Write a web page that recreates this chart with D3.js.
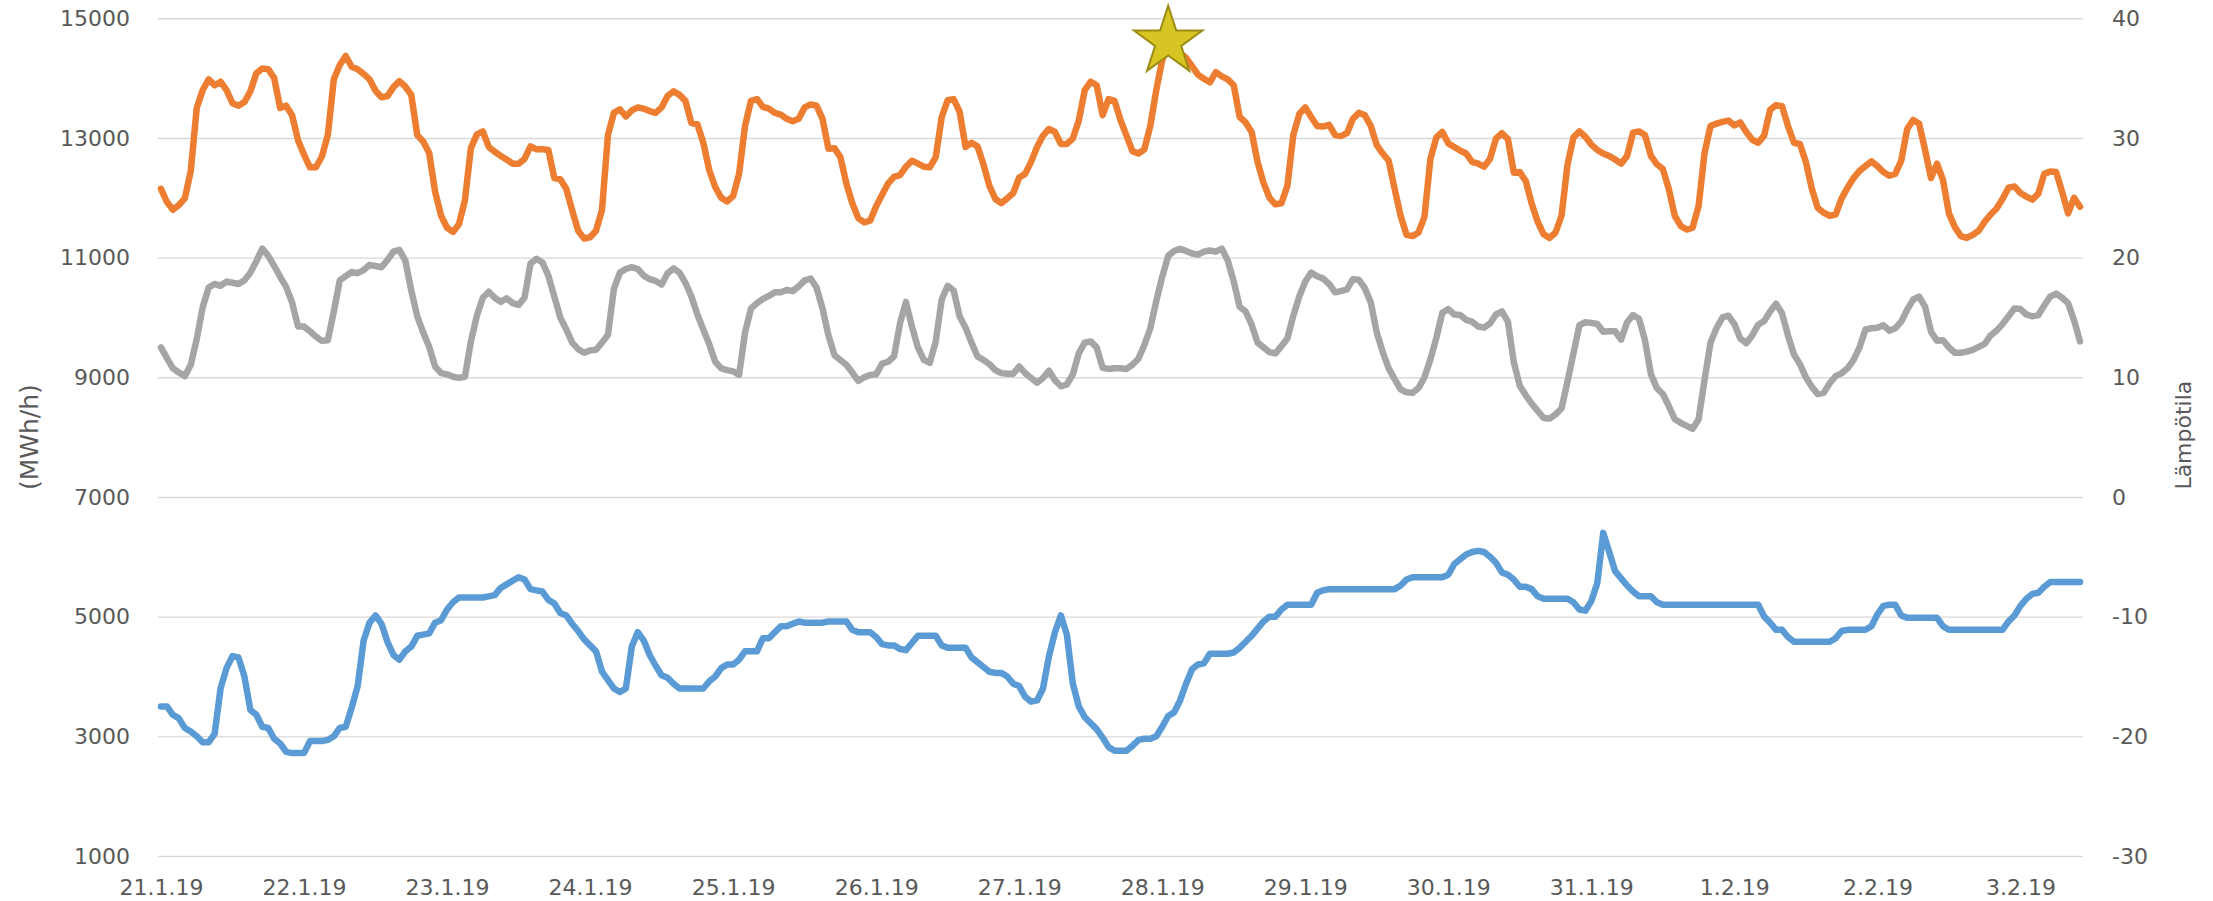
<!DOCTYPE html>
<html>
<head>
<meta charset="utf-8">
<script src="https://cdn.jsdelivr.net/npm/d3@7/dist/d3.min.js"></script>
<style>
  html, body { margin: 0; padding: 0; background: #ffffff; }
  svg { display: block; }
  text { font-family: "DejaVu Sans", "Open Sans", sans-serif; fill: #595959; }
</style>
</head>
<body>
<svg id="chart" width="2213" height="901"></svg>
<script>
// ---------------- DATA ----------------
const dateLabels = ["21.1.19","22.1.19","23.1.19","24.1.19","25.1.19","26.1.19","27.1.19",
  "28.1.19","29.1.19","30.1.19","31.1.19","1.2.19","2.2.19","3.2.19"];
const hoursPerLabel = 24;

const leftTicks = [1000, 3000, 5000, 7000, 9000, 11000, 13000, 15000];
const rightTicks = [-30, -20, -10, 0, 10, 20, 30, 40];

const leftTitle = "(MWh/h)";
const rightTitle = "Lämpötila";

// orange series (MWh/h), hourly
const consumption = [
12150,11930,11800,11880,11990,12450,13500,13800,13980,13880,
13940,13800,13580,13540,13600,13780,14080,14160,14150,14000,
13500,13540,13380,12960,12720,12510,12510,12690,13050,13980,
14220,14370,14190,14150,14070,13980,13790,13680,13700,13850,
13950,13860,13720,13050,12940,12750,12100,11700,11500,11430,
11560,11960,12830,13060,13110,12850,12770,12700,12640,12570,
12570,12650,12860,12810,12810,12800,12330,12310,12150,11790,
11450,11320,11340,11450,11800,13050,13420,13480,13360,13460,
13510,13490,13450,13420,13510,13700,13780,13720,13620,13250,
13230,12920,12460,12180,12000,11940,12030,12400,13200,13620,
13650,13520,13490,13420,13390,13320,13280,13320,13510,13560,
13540,13320,12820,12830,12680,12240,11910,11660,11590,11620,
11860,12050,12240,12350,12380,12520,12620,12570,12520,12510,
12680,13350,13630,13650,13440,12850,12920,12860,12560,12200,
11980,11910,11990,12080,12340,12400,12600,12850,13040,13150,
13100,12900,12900,12990,13290,13800,13940,13880,13380,13650,
13620,13300,13040,12780,12740,12810,13200,13800,14300,14542,
14500,14420,14340,14200,14060,13990,13930,14100,14030,13980,
13880,13350,13260,13100,12600,12250,12000,11890,11910,12200,
13050,13400,13510,13350,13200,13190,13220,13050,13030,13080,
13320,13420,13380,13200,12880,12740,12620,12150,11700,11380,
11360,11420,11680,12650,13010,13100,12910,12850,12790,12740,
12600,12570,12520,12650,12990,13080,12980,12420,12430,12280,
11900,11600,11390,11330,11420,11700,12550,13010,13110,13020,
12890,12800,12740,12700,12640,12570,12700,13090,13110,13050,
12700,12560,12480,12150,11700,11530,11470,11500,11860,12750,
13200,13240,13270,13290,13210,13260,13100,12970,12920,13040,
13470,13550,13530,13200,12920,12900,12600,12150,11830,11750,
11700,11720,11990,12170,12330,12450,12530,12610,12530,12430,
12370,12400,12620,13150,13300,13240,12800,12330,12570,12300,
11740,11510,11360,11330,11380,11450,11600,11720,11820,11980,
12170,12190,12080,12020,11970,12070,12400,12440,12430,12100,
11740,12000,11850];

// grey series (MWh/h), hourly
const production = [
9500,9320,9150,9080,9020,9210,9640,10170,10500,10560,
10530,10600,10580,10560,10620,10750,10940,11150,11030,10860,
10680,10510,10250,9850,9850,9770,9680,9610,9620,10100,
10620,10690,10760,10740,10790,10880,10860,10840,10960,11100,
11130,10950,10450,10020,9750,9510,9180,9070,9050,9010,
8990,9010,9600,10030,10330,10430,10330,10260,10320,10240,
10210,10330,10900,10980,10920,10700,10350,10000,9800,9580,
9470,9410,9450,9460,9580,9710,10480,10750,10810,10840,
10810,10700,10640,10610,10550,10740,10820,10750,10580,10350,
10050,9800,9550,9260,9150,9120,9100,9040,9750,10150,
10240,10310,10360,10420,10420,10460,10440,10520,10620,10650,
10500,10150,9700,9370,9290,9210,9080,8940,9000,9040,
9050,9230,9260,9350,9900,10260,9850,9500,9290,9240,
9600,10300,10530,10450,10020,9830,9580,9350,9290,9220,
9120,9070,9060,9060,9180,9070,8990,8910,8990,9110,
8950,8850,8880,9050,9400,9580,9600,9500,9160,9140,
9150,9150,9140,9210,9310,9540,9820,10270,10680,11030,
11110,11150,11110,11070,11050,11100,11120,11100,11150,10950,
10600,10180,10100,9880,9580,9500,9420,9400,9520,9650,
10030,10350,10600,10750,10690,10650,10560,10420,10440,10470,
10640,10630,10490,10250,9750,9420,9150,8970,8800,8750,
8740,8820,9000,9300,9660,10080,10140,10050,10040,9960,
9930,9850,9830,9900,10050,10100,9930,9250,8860,8700,
8560,8440,8320,8310,8380,8480,8930,9400,9870,9920,
9910,9890,9760,9770,9770,9630,9920,10040,9980,9620,
9050,8820,8720,8520,8300,8240,8190,8140,8300,8960,
9580,9820,10000,10030,9890,9650,9570,9700,9880,9940,
10100,10230,10070,9700,9380,9220,9000,8840,8720,8740,
8900,9020,9070,9150,9290,9500,9800,9820,9830,9870,
9780,9820,9930,10130,10300,10350,10180,9760,9610,9620,
9500,9410,9410,9430,9460,9510,9560,9700,9780,9890,
10020,10150,10140,10050,10020,10040,10200,10350,10400,10330,
10240,9950,9600];

// blue series (temperature, right axis), hourly
const temperature = [
-17.5,-17.5,-18.2,-18.5,-19.3,-19.6,-20.0,-20.5,-20.5,-19.8,
-16.0,-14.3,-13.3,-13.4,-15.0,-17.8,-18.2,-19.2,-19.3,-20.2,
-20.6,-21.3,-21.4,-21.4,-21.4,-20.4,-20.4,-20.4,-20.3,-20.0,
-19.3,-19.2,-17.6,-15.8,-12.0,-10.5,-9.9,-10.6,-12.1,-13.2,
-13.6,-12.9,-12.5,-11.6,-11.5,-11.4,-10.5,-10.3,-9.4,-8.8,
-8.4,-8.4,-8.4,-8.4,-8.4,-8.3,-8.2,-7.6,-7.3,-7.0,
-6.7,-6.9,-7.7,-7.8,-7.9,-8.6,-8.9,-9.7,-9.9,-10.6,
-11.2,-11.9,-12.4,-12.9,-14.6,-15.3,-16.0,-16.3,-16.0,-12.5,
-11.3,-12.0,-13.2,-14.1,-14.9,-15.1,-15.6,-16.0,-16.0,-16.0,
-16.0,-16.0,-15.4,-15.0,-14.3,-14.0,-14.0,-13.6,-12.9,-12.9,
-12.9,-11.8,-11.8,-11.3,-10.8,-10.8,-10.6,-10.4,-10.5,-10.5,
-10.5,-10.5,-10.4,-10.4,-10.4,-10.4,-11.1,-11.3,-11.3,-11.3,
-11.7,-12.3,-12.4,-12.4,-12.7,-12.8,-12.2,-11.6,-11.6,-11.6,
-11.6,-12.4,-12.6,-12.6,-12.6,-12.6,-13.4,-13.8,-14.2,-14.6,
-14.7,-14.7,-15.0,-15.6,-15.8,-16.7,-17.1,-17.0,-16.0,-13.3,
-11.3,-9.9,-11.5,-15.6,-17.5,-18.4,-18.9,-19.4,-20.1,-20.9,
-21.2,-21.2,-21.2,-20.8,-20.3,-20.2,-20.2,-20.0,-19.2,-18.3,
-18.0,-17.0,-15.6,-14.4,-14.0,-13.9,-13.1,-13.1,-13.1,-13.1,
-13.0,-12.6,-12.1,-11.6,-11.0,-10.4,-10.0,-10.0,-9.4,-9.0,
-9.0,-9.0,-9.0,-9.0,-8.0,-7.8,-7.7,-7.7,-7.7,-7.7,
-7.7,-7.7,-7.7,-7.7,-7.7,-7.7,-7.7,-7.7,-7.4,-6.9,
-6.7,-6.7,-6.7,-6.7,-6.7,-6.7,-6.5,-5.6,-5.2,-4.8,
-4.6,-4.5,-4.6,-5.0,-5.5,-6.3,-6.5,-6.9,-7.5,-7.5,
-7.7,-8.3,-8.5,-8.5,-8.5,-8.5,-8.5,-8.8,-9.4,-9.5,
-8.7,-7.2,-3.0,-4.6,-6.2,-6.8,-7.4,-7.9,-8.3,-8.3,
-8.3,-8.8,-9.0,-9.0,-9.0,-9.0,-9.0,-9.0,-9.0,-9.0,
-9.0,-9.0,-9.0,-9.0,-9.0,-9.0,-9.0,-9.0,-9.0,-10.0,
-10.5,-11.1,-11.1,-11.7,-12.1,-12.1,-12.1,-12.1,-12.1,-12.1,
-12.1,-11.8,-11.2,-11.1,-11.1,-11.1,-11.1,-10.8,-9.8,-9.1,
-9.0,-9.0,-9.9,-10.1,-10.1,-10.1,-10.1,-10.1,-10.1,-10.8,
-11.1,-11.1,-11.1,-11.1,-11.1,-11.1,-11.1,-11.1,-11.1,-11.1,
-10.4,-9.9,-9.1,-8.5,-8.1,-8.0,-7.5,-7.1,-7.1,-7.1,
-7.1,-7.1,-7.1];

// ---------------- CHART ----------------
const svg = d3.select("#chart");
const W = 2213, H = 901;
const margin = { left: 158, right: W - 2083, top: 18.3, bottom: H - 856 };
const x0 = margin.left, x1 = W - margin.right, y0 = margin.top, y1 = H - margin.bottom;

const categories = d3.range(consumption.length);
const x = d3.scalePoint().domain(categories).range([x0, x1]).padding(0.5);
const yL = d3.scaleLinear().domain([1000, 15000]).range([y1, y0]);
const yR = d3.scaleLinear().domain([-30, 40]).range([y1, y0]);

const plainNum = d => String(d);  // hyphen-minus, as in the original

// gridlines
const grid = svg.append("g").attr("transform", `translate(${x0},0)`)
  .call(d3.axisLeft(yL).tickValues(leftTicks).tickSize(-(x1 - x0)).tickFormat(""));
grid.select(".domain").remove();
grid.selectAll("line").attr("stroke", "#d9d9d9").attr("stroke-width", 1.4);

// left axis
const gL = svg.append("g").attr("transform", `translate(${x0},0)`)
  .call(d3.axisLeft(yL).tickValues(leftTicks).tickSize(0).tickPadding(28).tickFormat(plainNum));
gL.select(".domain").remove();
gL.selectAll("text").style("font-size", "22px").attr("fill", "#595959");

// right axis
const gR = svg.append("g").attr("transform", `translate(${x1},0)`)
  .call(d3.axisRight(yR).tickValues(rightTicks).tickSize(0).tickPadding(29).tickFormat(plainNum));
gR.select(".domain").remove();
gR.selectAll("text").style("font-size", "22px").attr("fill", "#595959");

// bottom axis
const gB = svg.append("g").attr("transform", `translate(0,${y1})`)
  .call(d3.axisBottom(x)
    .tickValues(categories.filter(i => i % hoursPerLabel === 0))
    .tickSize(0).tickPadding(23)
    .tickFormat(i => dateLabels[i / hoursPerLabel]));
gB.select(".domain").remove();
gB.selectAll("text").style("font-size", "22px").attr("fill", "#595959");

// axis titles
svg.append("text")
  .attr("transform", `translate(38,${(y0 + y1) / 2}) rotate(-90)`)
  .attr("text-anchor", "middle")
  .style("font-size", "25px")
  .text(leftTitle);
svg.append("text")
  .attr("transform", `translate(2191,${(y0 + y1) / 2 - 2}) rotate(-90)`)
  .attr("text-anchor", "middle")
  .style("font-size", "22px")
  .text(rightTitle);

// lines
const lineL = d3.line().x((d, i) => x(i)).y(d => yL(d));
const lineR = d3.line().x((d, i) => x(i)).y(d => yR(d));

const series = [
  { data: temperature, line: lineR, color: "#5b9bd5" },
  { data: production, line: lineL, color: "#a5a5a5" },
  { data: consumption, line: lineL, color: "#ed7d31" }
];
series.forEach(s => {
  svg.append("path")
    .datum(s.data)
    .attr("d", s.line)
    .attr("fill", "none")
    .attr("stroke", s.color)
    .attr("stroke-width", 6.5)
    .attr("stroke-linejoin", "round")
    .attr("stroke-linecap", "round");
});

// star marking the peak of consumption
const peakIdx = d3.maxIndex(consumption);
const cx = x(peakIdx), cy = yL(consumption[peakIdx]) - 4;
const R = 36, r = 13.8;
const pts = d3.range(10).map(k => {
  const ang = -Math.PI / 2 + k * Math.PI / 5;
  const rad = k % 2 === 0 ? R : r;
  return [cx + rad * Math.cos(ang), cy + rad * Math.sin(ang)];
});
svg.append("path")
  .attr("d", d3.line()(pts) + "Z")
  .attr("fill", "#d7c524")
  .attr("stroke", "#9c8c14")
  .attr("stroke-width", 2)
  .attr("stroke-linejoin", "miter");
</script>
</body>
</html>
